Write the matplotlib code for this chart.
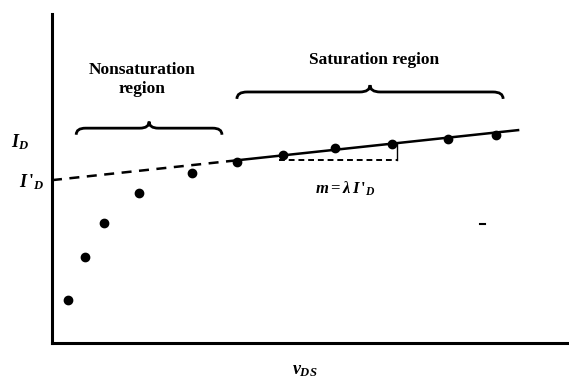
import matplotlib
matplotlib.use("Agg")
import matplotlib.pyplot as plt
from matplotlib.path import Path
from matplotlib.patches import PathPatch

plt.rcParams["font.family"] = ["Liberation Serif", "DejaVu Serif"]
plt.rcParams["mathtext.fontset"] = "custom"
plt.rcParams["mathtext.it"] = "Liberation Serif:italic:bold"
plt.rcParams["mathtext.rm"] = "Liberation Serif:bold"

# measured points (arbitrary units, axes span 0..10)
vds = [0.31, 0.64, 1.01, 1.69, 2.72, 3.59, 4.49, 5.50, 6.60, 7.69, 8.62]
i_d = [1.31, 2.61, 3.65, 4.56, 5.17, 5.50, 5.71, 5.93, 6.05, 6.20, 6.32]

# saturation line: i = I'_D + m * v
i_d_prime = 4.95
slope = 0.168
sat_start = 3.59
sat_end = 9.05


def brace(ax, x0, x1, y, h, d):
    xm = (x0 + x1) / 2
    verts = [
        (x0, y - h), (x0, y), (x0 + d, y),
        (xm - d, y), (xm, y), (xm, y + h),
        (xm, y), (xm + d, y),
        (x1 - d, y), (x1, y), (x1, y - h),
    ]
    codes = [
        Path.MOVETO, Path.CURVE3, Path.CURVE3,
        Path.LINETO, Path.CURVE3, Path.CURVE3,
        Path.CURVE3, Path.CURVE3,
        Path.LINETO, Path.CURVE3, Path.CURVE3,
    ]
    ax.add_patch(PathPatch(Path(verts, codes), fill=False, lw=2.0,
                           color="black", clip_on=False))


fig = plt.figure(figsize=(5.69, 3.81), dpi=100)
ax = fig.add_axes([52 / 569, 38 / 381, 515 / 569, 329 / 381])
ax.set_xlim(0, 10)
ax.set_ylim(0, 10)
for s in ["top", "right"]:
    ax.spines[s].set_visible(False)
ax.spines["left"].set_linewidth(2.2)
ax.spines["bottom"].set_linewidth(2.2)
ax.set_xticks([])
ax.set_yticks([])

ax.plot(vds, i_d, "o", color="black", ms=6)

ax.plot([0, sat_start], [i_d_prime, i_d_prime + slope * sat_start],
        "--", color="black", lw=1.8, dashes=(4, 3))
ax.plot([sat_start, sat_end],
        [i_d_prime + slope * sat_start, i_d_prime + slope * sat_end],
        "-", color="black", lw=1.8)

# rise of the line over the horizontal run
hx0, hx1, hy = 4.4, 6.7, 5.56
ax.plot([hx0, hx1], [hy, hy], "--", color="black", lw=1.4, dashes=(3, 2))
ax.plot([hx1, hx1], [hy, i_d_prime + slope * hx1], "-", color="black", lw=1.0)
ax.plot([8.32, 8.40], [3.62, 3.62], "-", color="black", lw=1.5)

brace(ax, 0.47, 3.30, 6.53, 0.2, 0.18)
brace(ax, 3.59, 8.76, 7.63, 0.21, 0.2)

ax.text(1.75, 8.0, "Nonsaturation\nregion", ha="center", va="center",
        fontsize=12.5, fontweight="bold", linespacing=1.25)
ax.text(6.25, 8.6, "Saturation region", ha="center", va="center",
        fontsize=12.5, fontweight="bold")
ax.text(5.7, 4.7, r"$m = \lambda\, I\,'_D$", ha="center", va="center",
        fontsize=12)
ax.text(-0.62, 6.1, r"$I_D$", ha="center", va="center", fontsize=13,
        clip_on=False)
ax.text(-0.4, 4.9, r"$I\,'_D$", ha="center", va="center", fontsize=13,
        clip_on=False)
ax.text(4.9, -0.85, r"$v_{DS}$", ha="center", va="center", fontsize=13,
        clip_on=False)

fig.savefig("out.png", dpi=100)
